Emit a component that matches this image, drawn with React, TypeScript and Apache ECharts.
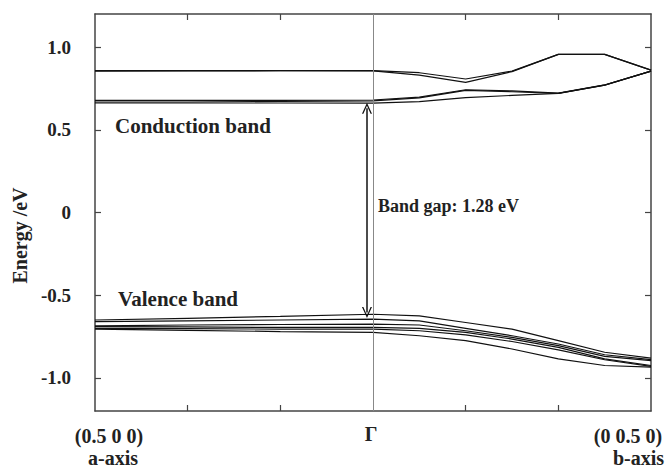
import React, { useEffect, useRef } from "react";
import * as echarts from "echarts";

// k-path positions: 0 = (0.5 0 0), 3 = Γ, 6 = (0 0.5 0)
const kPath = [0, 1, 2, 3, 3.5, 4, 4.5, 5, 5.5, 6];

const conductionBands = [
  [0.858, 0.858, 0.858, 0.858, 0.845, 0.807, 0.855, 0.956, 0.956, 0.861],
  [0.855, 0.856, 0.857, 0.856, 0.83, 0.787, 0.852, 0.956, 0.956, 0.861],
  [0.678, 0.678, 0.678, 0.68, 0.697, 0.742, 0.735, 0.722, 0.771, 0.855],
  [0.668, 0.668, 0.672, 0.675, 0.693, 0.738, 0.73, 0.72, 0.77, 0.855],
  [0.662, 0.662, 0.662, 0.661, 0.67, 0.695, 0.708, 0.72, 0.77, 0.855],
];

const valenceBands = [
  [-0.65, -0.64, -0.628, -0.615, -0.625, -0.665, -0.705, -0.775, -0.845, -0.88],
  [-0.66, -0.655, -0.65, -0.645, -0.655, -0.7, -0.745, -0.795, -0.86, -0.89],
  [-0.685, -0.68, -0.677, -0.675, -0.68, -0.715, -0.755, -0.805, -0.87, -0.895],
  [-0.69, -0.692, -0.695, -0.695, -0.7, -0.725, -0.765, -0.815, -0.885, -0.925],
  [-0.7, -0.702, -0.705, -0.705, -0.715, -0.74, -0.78, -0.83, -0.89, -0.93],
  [-0.705, -0.712, -0.72, -0.725, -0.745, -0.775, -0.825, -0.885, -0.925, -0.935],
];

const yTicks = [-1, -0.5, 0, 0.5, 1];
const xTicks = [1, 2, 4, 5];
const gammaX = 3;
const gapArrow = { x: 2.935, top: 0.63, bottom: -0.605 };

const FONT = "'Liberation Serif', 'Times New Roman', serif";

export default function App() {
  const ref = useRef<HTMLDivElement>(null);
  useEffect(() => {
    if (!ref.current) return;
    const chart = echarts.init(ref.current, null, { renderer: "svg" });
    const bandSeries = [...conductionBands, ...valenceBands].map((vals, i) => ({
      type: "line",
      name: "band" + i,
      data: vals.map((v, j) => [kPath[j], v]),
      symbol: "none",
      lineStyle: { color: "#111", width: 1.2 },
      silent: true,
      z: 3,
    }));
    const axisColor = "#444";
    const arrowSym = "path://M0,10 L5,0 L10,10 L8.6,10 L5,2.6 L1.4,10 Z";
    const xAxisBase = (pos: string) => ({
      type: "value",
      min: 0,
      max: 6,
      interval: 1,
      position: pos,
      axisLine: { onZero: false, lineStyle: { color: axisColor, width: 1.5 } },
      axisTick: { inside: true, length: 6, lineStyle: { color: axisColor, width: 1.2 }, customValues: xTicks },
      axisLabel: { show: false },
      splitLine: { show: false },
    });
    chart.setOption({
      animation: false,
      grid: { left: 95, right: 15, top: 14, bottom: 59 },
      xAxis: [xAxisBase("bottom"), xAxisBase("top")],
      yAxis: [
        {
          type: "value",
          min: -1.2,
          max: 1.2,
          position: "left",
          name: "Energy /eV",
          nameLocation: "middle",
          nameRotate: 90,
          nameGap: 65,
          nameTextStyle: { fontFamily: FONT, fontWeight: "bold", fontSize: 20, color: "#222", padding: [0, 0, 0, -46] },
          axisLine: { show: true, onZero: false, lineStyle: { color: axisColor, width: 1.5 } },
          axisTick: { show: true, inside: true, length: 6, customValues: yTicks, lineStyle: { color: axisColor, width: 1.2 } },
          axisLabel: {
            customValues: yTicks,
            margin: 24,
            fontFamily: FONT,
            fontWeight: "bold",
            fontSize: 19,
            color: "#222",
            formatter: (v: number) => (Math.abs(v) < 1e-9 ? "0" : v.toFixed(1)),
          },
          splitLine: { show: false },
        },
        {
          type: "value",
          min: -1.2,
          max: 1.2,
          position: "right",
          axisLine: { show: true, onZero: false, lineStyle: { color: axisColor, width: 1.5 } },
          axisTick: { show: true, inside: true, length: 6, customValues: yTicks, lineStyle: { color: axisColor, width: 1.2 } },
          axisLabel: { show: false },
          splitLine: { show: false },
        },
      ],
      series: [
        ...bandSeries,
        {
          type: "line",
          name: "markers",
          data: [],
          silent: true,
          markLine: {
            silent: true,
            animation: false,
            label: { show: false },
            data: [
              [
                { coord: [gammaX, -1.2], symbol: "none", lineStyle: { color: "#888", width: 1, type: "solid" } },
                { coord: [gammaX, 1.2], symbol: "none" },
              ],
              [
                { coord: [gapArrow.x, gapArrow.bottom], symbol: arrowSym, symbolSize: [10, 11], symbolRotate: 180, lineStyle: { color: "#111", width: 1.5, type: "solid" } },
                { coord: [gapArrow.x, gapArrow.top], symbol: arrowSym, symbolSize: [10, 11] },
              ],
            ],
          },
          z: 2,
        },
      ],
      graphic: [
        { type: "text", left: 115, top: 115, style: { text: "Conduction band", font: `bold 21px ${FONT}`, fill: "#222" } },
        { type: "text", left: 118, top: 288, style: { text: "Valence band", font: `bold 21px ${FONT}`, fill: "#222" } },
        { type: "text", left: 378, top: 197, style: { text: "Band gap: 1.28 eV", font: `bold 18px ${FONT}`, fill: "#222" } },
        { type: "text", x: 109, y: 436, style: { text: "(0.5 0 0)", font: `bold 20px ${FONT}`, fill: "#222", align: "center", verticalAlign: "middle" } },
        { type: "text", x: 113, y: 458, style: { text: "a-axis", font: `bold 20px ${FONT}`, fill: "#222", align: "center", verticalAlign: "middle" } },
        { type: "text", x: 371, y: 434, style: { text: "Γ", font: `bold 20px ${FONT}`, fill: "#222", align: "center", verticalAlign: "middle" } },
        { type: "text", x: 628, y: 436, style: { text: "(0 0.5 0)", font: `bold 20px ${FONT}`, fill: "#222", align: "center", verticalAlign: "middle" } },
        { type: "text", x: 664, y: 458, style: { text: "b-axis", font: `bold 20px ${FONT}`, fill: "#222", align: "right", verticalAlign: "middle" } },
      ],
    });
    return () => chart.dispose();
  }, []);
  return (
    <div
      ref={ref}
      style={{ position: "absolute", left: 0, top: 0, width: 666, height: 470, background: "#fff" }}
    />
  );
}
